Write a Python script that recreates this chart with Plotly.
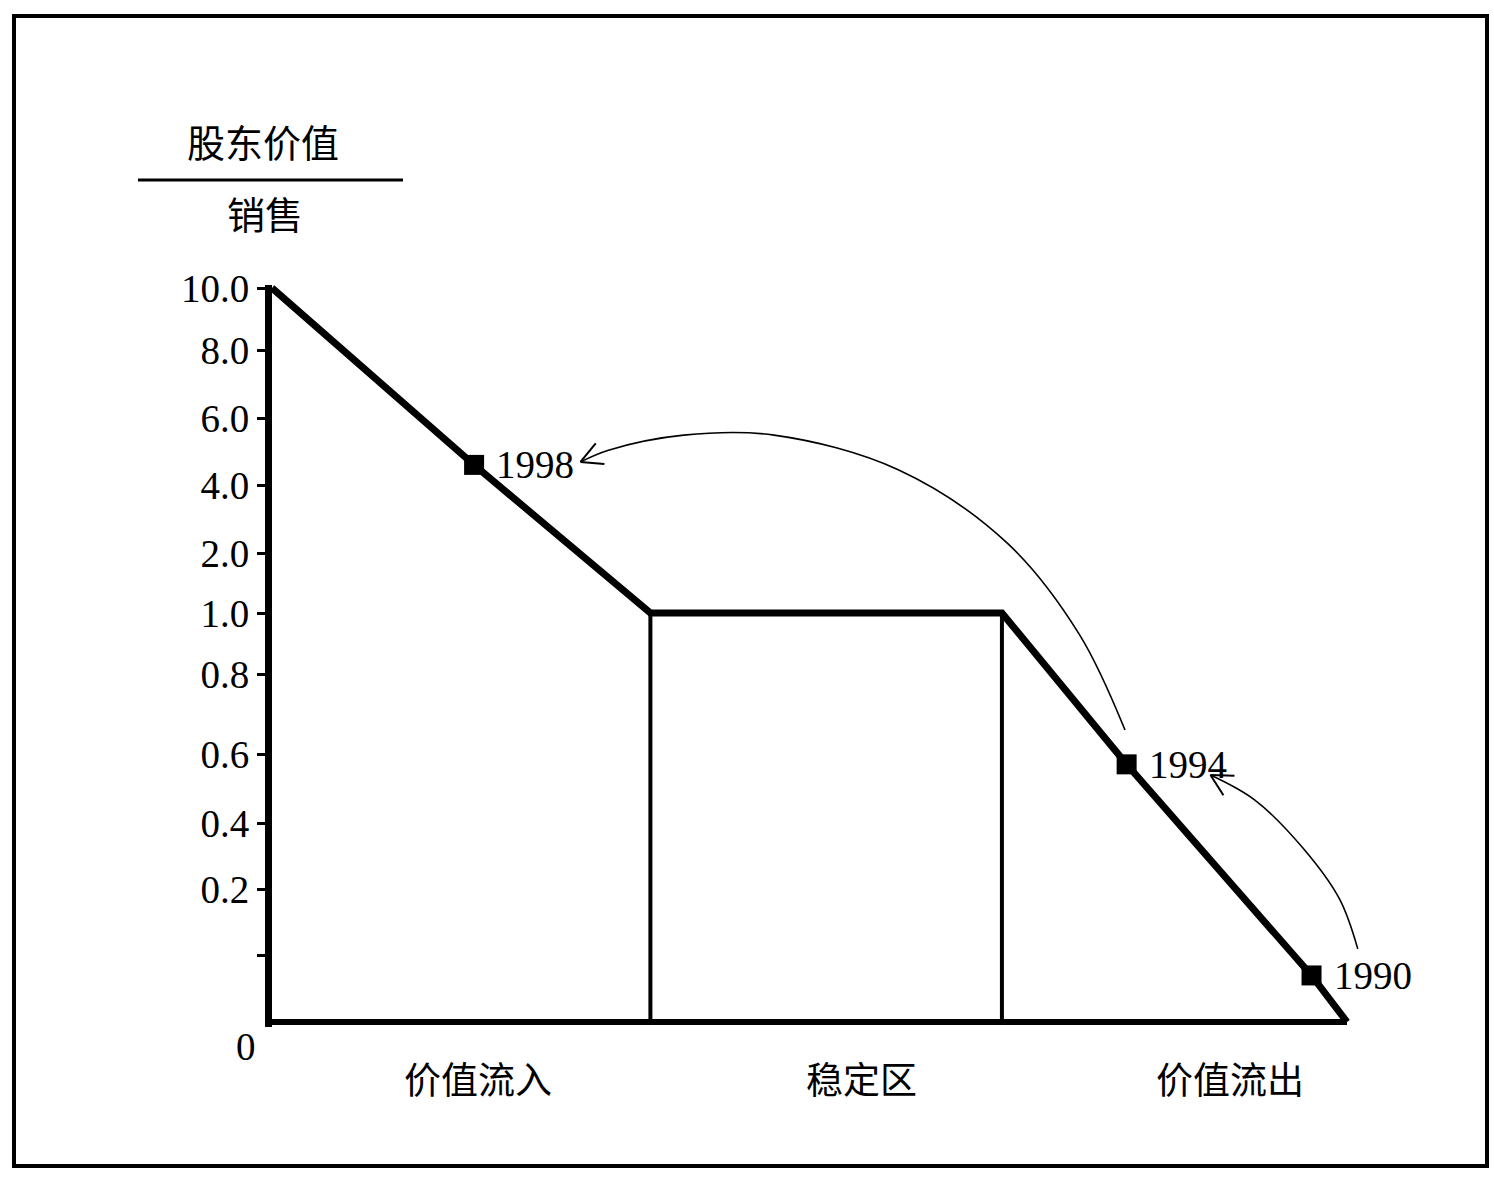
import numpy as np
import plotly.graph_objects as go

# ---- printed (non-linear) y-axis scale: tick values and their relative spacing ----
Y_TICK_VALUES = [0, 0.2, 0.4, 0.6, 0.8, 1.0, 2.0, 4.0, 6.0, 8.0, 10.0]
Y_TICK_LABELS = ["0", "0.2", "0.4", "0.6", "0.8", "1.0", "2.0", "4.0", "6.0", "8.0", "10.0"]
Y_SCALE_STOPS = [0, 133, 199, 268, 348, 409, 469, 537, 604, 672, 734]
Y_MINOR_TICK = 0.1  # unlabelled tick between 0 and 0.2

# ---- value curve: shareholder value / sales along the value-migration path ----
CURVE_X = [0, 18.8, 35.2, 67.9, 79.5, 96.7, 100]
CURVE_Y = [10.0, 4.6, 1.0, 1.0, 0.57, 0.07, 0.0]

YEARS = ["1998", "1994", "1990"]
YEAR_X = [18.8, 79.5, 96.7]
YEAR_Y = [4.6, 0.57, 0.07]

ZONES = ["价值流入", "稳定区", "价值流出"]
ZONE_EDGES = [35.2, 67.9]
ZONE_TOP = 1.0
ZONE_LABEL_X = [19.2, 54.8, 89.1]
X_END = 100

# ---- curved connectors (1994 -> 1998, 1990 -> 1994) ----
ARC_1998_X = [79.35, 75.1, 68.4, 58.3, 46.7, 38.3, 31.3, 28.7]
ARC_1998_Y = [0.66, 0.93, 2.29, 4.45, 5.49, 5.49, 5.04, 4.69]
ARC_1994_X = [101.0, 99.3, 95.9, 91.4, 87.3]
ARC_1994_Y = [0.110, 0.185, 0.324, 0.467, 0.539]

Y_TITLE_TOP = "股东价值"
Y_TITLE_BOTTOM = "销售"


def ypos(v):
    return np.interp(np.asarray(v, dtype=float), Y_TICK_VALUES, Y_SCALE_STOPS)


# ---- layout geometry ----
W, H = 1494, 1185
L, R, T, B = 272, 54, 285, 158
PLOT_W = W - L - R
PLOT_H = H - T - B
PX_PER_X = 10.75
Y_LO = -5
Y_HI = Y_LO + PLOT_H  # one axis unit per pixel
X_HI = PLOT_W / PX_PER_X


def px_x(px):
    return (px - L) / PLOT_W


def px_y(py):
    return (H - B - py) / PLOT_H


SERIF = "Liberation Serif, Times New Roman, serif"
CJK = "Noto Sans CJK SC, sans-serif"

fig = go.Figure()

# zone boundaries of the stable region
zx, zy = [], []
for e in ZONE_EDGES:
    zx += [e, e, None]
    zy += [float(ypos(0)), float(ypos(ZONE_TOP)), None]
fig.add_trace(go.Scatter(x=zx, y=zy, mode="lines",
                         line=dict(color="black", width=4), hoverinfo="skip"))

# bottom axis line
fig.add_trace(go.Scatter(x=[0, X_END], y=[float(ypos(0))] * 2, mode="lines",
                         line=dict(color="black", width=6), hoverinfo="skip"))

# main curve
fig.add_trace(go.Scatter(x=CURVE_X, y=ypos(CURVE_Y), mode="lines",
                         line=dict(color="black", width=7), hoverinfo="skip"))

# year markers
fig.add_trace(go.Scatter(x=YEAR_X, y=ypos(YEAR_Y), mode="markers",
                         marker=dict(symbol="square", size=20, color="black"),
                         cliponaxis=False, hoverinfo="skip"))


def add_arc(xs, ys):
    yp = ypos(ys)
    fig.add_trace(go.Scatter(x=xs, y=yp, mode="lines",
                             line=dict(color="black", width=1.6, shape="spline", smoothing=1.0),
                             hoverinfo="skip"))
    # open arrowhead at the last point, computed in pixel space
    tx, ty = xs[-1] * PX_PER_X, yp[-1]
    px0, py0 = xs[-2] * PX_PER_X, yp[-2]
    d = np.array([px0 - tx, py0 - ty])
    d = d / np.linalg.norm(d)
    ax, ay = [], []
    for ang in (np.radians(28), -np.radians(28)):
        rot = np.array([[np.cos(ang), -np.sin(ang)], [np.sin(ang), np.cos(ang)]])
        v = rot @ d * 24
        ax += [(tx + v[0]) / PX_PER_X, xs[-1], None]
        ay += [ty + v[1], yp[-1], None]
    fig.add_trace(go.Scatter(x=ax, y=ay, mode="lines",
                             line=dict(color="black", width=2), hoverinfo="skip"))


add_arc(ARC_1998_X, ARC_1998_Y)
add_arc(ARC_1994_X, ARC_1994_Y)

annotations = []
for name, x, y in zip(YEARS, YEAR_X, YEAR_Y):
    annotations.append(dict(x=x, y=float(ypos(y)), xref="x", yref="y", text=name,
                            showarrow=False, xanchor="left", yanchor="middle", xshift=20,
                            font=dict(family=SERIF, size=39, color="black")))
for name, x in zip(ZONES, ZONE_LABEL_X):
    annotations.append(dict(x=x, y=float(ypos(0)), xref="x", yref="y", text=name,
                            showarrow=False, xanchor="center", yanchor="middle", yshift=-56,
                            font=dict(family=CJK, size=37, color="black")))
# "0" label printed below the origin
annotations.append(dict(x=0, y=float(ypos(0)), xref="paper", yref="y", text=Y_TICK_LABELS[0],
                        showarrow=False, xanchor="right", yanchor="middle", xshift=-14, yshift=-24,
                        font=dict(family=SERIF, size=39, color="black")))
# y-axis title as a fraction
annotations.append(dict(x=px_x(263), y=px_y(141), xref="paper", yref="paper", text=Y_TITLE_TOP,
                        showarrow=False, xanchor="center", yanchor="middle",
                        font=dict(family=CJK, size=38, color="black")))
annotations.append(dict(x=px_x(265), y=px_y(212), xref="paper", yref="paper", text=Y_TITLE_BOTTOM,
                        showarrow=False, xanchor="center", yanchor="middle",
                        font=dict(family=CJK, size=38, color="black")))

shapes = [
    dict(type="line", xref="paper", yref="paper", x0=px_x(138), x1=px_x(403),
         y0=px_y(180), y1=px_y(180), line=dict(color="black", width=3)),
    dict(type="rect", xref="paper", yref="paper", x0=px_x(14), x1=px_x(1487),
         y0=px_y(16), y1=px_y(1166), line=dict(color="black", width=4)),
]

tick_vals = list(ypos(Y_TICK_VALUES[1:])) + [float(ypos(Y_MINOR_TICK))]
tick_text = Y_TICK_LABELS[1:] + [""]

fig.update_layout(
    width=W, height=H,
    margin=dict(l=L, r=R, t=T, b=B, pad=0),
    paper_bgcolor="white", plot_bgcolor="white",
    showlegend=False,
    xaxis=dict(range=[0, X_HI], visible=False, fixedrange=True),
    yaxis=dict(range=[Y_LO, Y_HI], showgrid=False, zeroline=False,
               showline=True, linewidth=7, linecolor="black",
               ticks="outside", ticklen=8, tickwidth=3, tickcolor="black",
               tickvals=tick_vals, ticktext=tick_text,
               tickfont=dict(family=SERIF, size=39, color="black"),
               fixedrange=True),
    annotations=annotations,
    shapes=shapes,
)

fig.write_html("out.html")
